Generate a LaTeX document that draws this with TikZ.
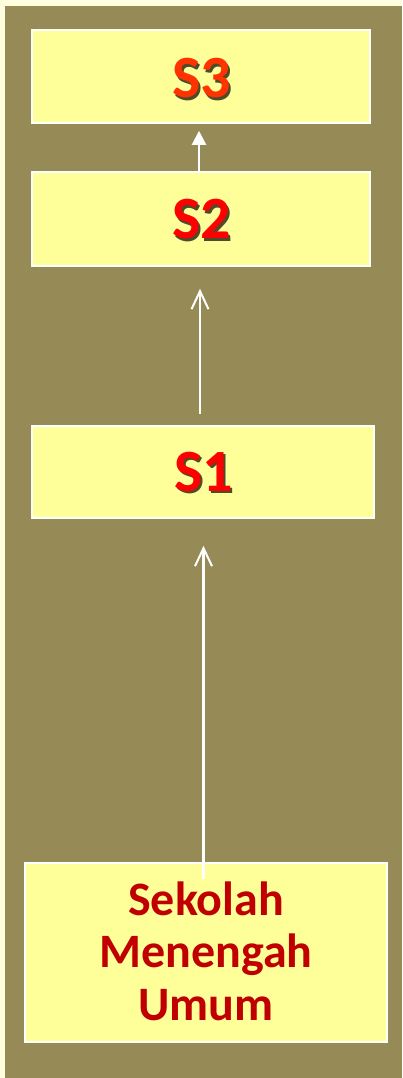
\documentclass[tikz,border=0pt]{standalone}
\usepackage{fontspec}
\setmainfont{Carlito}
\usetikzlibrary{arrows.meta}
\definecolor{creambg}{HTML}{FFFFE0}
\definecolor{olivebg}{HTML}{968A56}
\definecolor{boxyellow}{HTML}{FFFF99}
\definecolor{redA}{HTML}{FF0000}
\definecolor{redB}{HTML}{FF3300}
\definecolor{darkred}{HTML}{C00000}
\begin{document}
\begin{tikzpicture}[x=1pt,y=-1pt,
  box/.style={draw=white, line width=1.6pt, fill=boxyellow, inner sep=0pt},
  big/.style={font=\fontsize{60}{62}\selectfont\bfseries, inner sep=0pt},
  shade/.style={big, text=black, opacity=0.7},
  conn/.style={draw=white, line width=2.2pt},
  openhead/.style={conn, -{Straight Barb[length=18pt,width=17pt,line width=2pt]}}
]
\useasboundingbox (0,0) rectangle (402,1078);
\fill[creambg] (0,0) rectangle (402,1078);
\fill[olivebg] (5,6) rectangle (402,1078);

\node[box, minimum width=338pt, minimum height=93pt] (S3) at (201,76.5) {};
\node[box, minimum width=338pt, minimum height=94pt] (S2) at (201,219) {};
\node[box, minimum width=342pt, minimum height=92pt] (S1) at (203,472) {};
\node[box, minimum width=362pt, minimum height=179pt] (SMU) at (206,952.5) {};

\node[shade] (S3s) at (204,81) {S3};
\node[big, text=redB] (S3t) at (201.5,78.5) {S3};
\node[shade] (S2s) at (204,222) {S2};
\node[big, text=redA] (S2t) at (201.5,219.5) {S2};
\node[shade] (S1s) at (206,474.5) {S1};
\node[big, text=redA] (S1t) at (203.5,472) {S1};

\node[align=center, text=darkred, inner sep=0pt,
  font=\fontsize{48}{52.5}\selectfont\bfseries] (SMUt) at (206,951) {Sekolah\\Menengah\\Umum};

\draw[conn, -{Triangle[length=14pt,width=14pt]}, shorten >=7pt]
  ([xshift=-2pt]S2.north) -- ([xshift=-2pt]S3.south);
\draw[openhead, shorten <=11pt, shorten >=22pt]
  ([xshift=-3pt]S1.north) -- ([xshift=-1pt]S2.south);
\draw[openhead, shorten <=-17pt, shorten >=27pt]
  ([xshift=-2.5pt]SMU.north) -- ([xshift=0.5pt]S1.south);
\end{tikzpicture}
\end{document}
